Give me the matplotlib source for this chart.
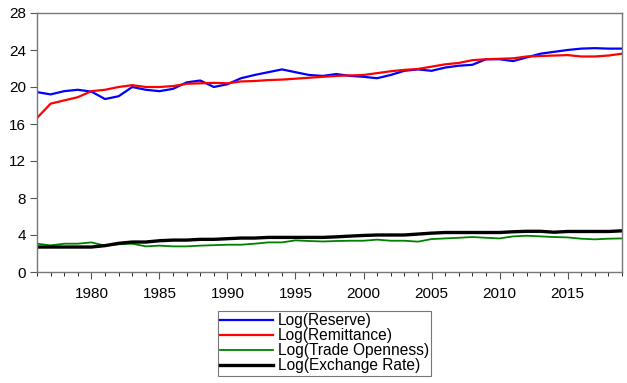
import numpy as np
import matplotlib.pyplot as plt
from matplotlib.ticker import MultipleLocator

plt.rcParams['font.family'] = ['Liberation Sans', 'DejaVu Sans']

years = np.arange(1976, 2020)

log_reserve = [19.45, 19.2, 19.55, 19.7, 19.5, 18.7, 19.0, 20.0, 19.7, 19.55,
               19.8, 20.5, 20.7, 20.0, 20.3, 20.95, 21.3, 21.6, 21.9, 21.6,
               21.3, 21.2, 21.4, 21.2, 21.1, 20.95, 21.3, 21.75, 21.9, 21.75,
               22.1, 22.3, 22.4, 23.0, 23.0, 22.8, 23.2, 23.6, 23.8, 24.0,
               24.15, 24.2, 24.15, 24.15]

log_remittance = [16.65, 18.2, 18.55, 18.9, 19.55, 19.7, 20.0, 20.2, 20.0, 20.0,
                  20.1, 20.35, 20.4, 20.45, 20.4, 20.6, 20.65, 20.75, 20.8, 20.9,
                  21.0, 21.1, 21.2, 21.25, 21.3, 21.5, 21.7, 21.85, 21.95, 22.2,
                  22.45, 22.6, 22.9, 23.0, 23.05, 23.1, 23.3, 23.35, 23.4, 23.45,
                  23.3, 23.3, 23.4, 23.6]

log_trade = [3.06, 2.88, 3.06, 3.06, 3.2, 2.85, 3.0, 3.06, 2.77, 2.85,
             2.77, 2.77, 2.85, 2.9, 2.95, 2.95, 3.06, 3.2, 3.2, 3.42,
             3.35, 3.3, 3.35, 3.38, 3.38, 3.5, 3.38, 3.38, 3.28, 3.56,
             3.63, 3.7, 3.78, 3.7, 3.63, 3.85, 3.92, 3.85, 3.78, 3.74,
             3.6, 3.53, 3.6, 3.63]

log_exrate = [2.7, 2.7, 2.7, 2.7, 2.7, 2.85, 3.1, 3.24, 3.24, 3.38,
              3.45, 3.45, 3.53, 3.53, 3.6, 3.67, 3.67, 3.74, 3.74, 3.74,
              3.74, 3.74, 3.8, 3.88, 3.95, 4.0, 4.0, 4.0, 4.1, 4.2,
              4.27, 4.27, 4.27, 4.27, 4.27, 4.35, 4.4, 4.4, 4.3, 4.38,
              4.38, 4.38, 4.38, 4.45]

fig = plt.figure(figsize=(6.27, 3.83), dpi=100)
ax = fig.add_axes([37/627, 1 - 272/383, 585/627, 259/383])

ax.plot(years, log_reserve, color='#0000ff', lw=1.6, label='Log(Reserve)')
ax.plot(years, log_remittance, color='#ff0000', lw=1.6, label='Log(Remittance)')
ax.plot(years, log_trade, color='#008000', lw=1.3, label='Log(Trade Openness)')
ax.plot(years, log_exrate, color='black', lw=2.4, label='Log(Exchange Rate)')

ax.set_xlim(1976, 2019)
ax.set_ylim(0, 28)
ax.yaxis.set_major_locator(MultipleLocator(4))
ax.xaxis.set_major_locator(MultipleLocator(5))
ax.xaxis.set_minor_locator(MultipleLocator(1))
ax.tick_params(axis='both', labelsize=11, direction='out', color='#555555')
ax.tick_params(axis='x', which='major', length=5, pad=6)
ax.tick_params(axis='x', which='minor', length=3)
ax.tick_params(axis='y', length=5, pad=3)
for s in ax.spines.values():
    s.set_color('#777777')
    s.set_linewidth(1.0)

leg = fig.legend(loc='upper left', bbox_to_anchor=(218/627, 1 - 311/383),
                 fontsize=11.2, frameon=True, fancybox=False, handlelength=3.4,
                 borderpad=0.15, labelspacing=0.0, handletextpad=0.3,
                 borderaxespad=0)
leg.get_frame().set_edgecolor('#555555')
leg.get_frame().set_linewidth(0.8)

fig.savefig('out.png', dpi=100)
